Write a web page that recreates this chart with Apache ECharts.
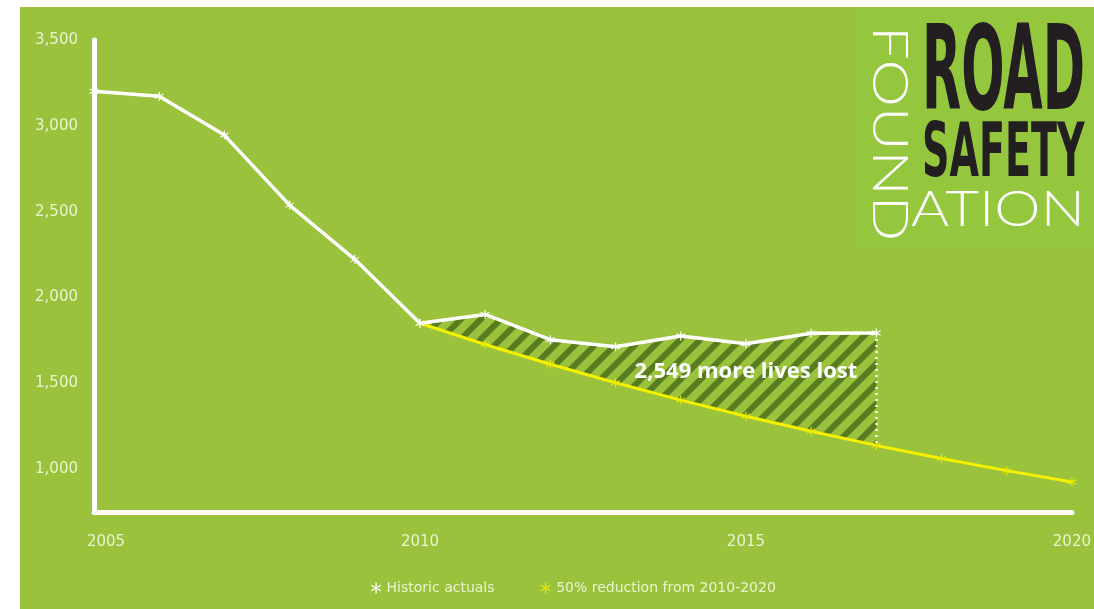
<!DOCTYPE html>
<html>
<head>
<meta charset="utf-8">
<title>Road deaths vs 50% reduction path</title>
<script src="https://cdn.jsdelivr.net/npm/echarts/dist/echarts.min.js"></script>
<style>
  html, body { margin: 0; padding: 0; background: #ffffff; }
  #chart {
    width: 1094px; height: 609px;
    background:
      linear-gradient(#ffffff, #ffffff) 0 0 / 20px 100% no-repeat,
      linear-gradient(#ffffff, #ffffff) 0 0 / 100% 7px no-repeat,
      #9bc23c;
  }
</style>
</head>
<body>
<div id="chart"></div>
<script>
// Years on the x axis
const years = ['2005','2006','2007','2008','2009','2010','2011','2012',
               '2013','2014','2015','2016','2017','2018','2019','2020'];
const xLabelYears = ['2005','2010','2015','2020'];

// Reported road deaths
const historic = [3201, 3172, 2946, 2538, 2222, 1850, 1901, 1754,
                  1713, 1775, 1730, 1792, 1793, null, null, null];

// Path halving deaths between 2010 and 2020
const reduction = [null, null, null, null, null, 1850, 1726, 1611,
                   1503, 1402, 1308, 1220, 1138, 1062, 991, 925];

// Y axis tick labels
const yTicks = [1000, 1500, 2000, 2500, 3000, 3500];

// Extra deaths above the reduction path, 2010-2017
const gapTotal = 2549;
const gapLabelYear = '2015';
const gapLabelValue = 1565;

const seriesNames = ['Historic actuals', '50% reduction from 2010-2020'];

// Shaded gap: base = reduction path, top = historic minus reduction
const gapBase = years.map((y, i) =>
  historic[i] != null && reduction[i] != null ? reduction[i] : null);
const gapHeight = years.map((y, i) =>
  historic[i] != null && reduction[i] != null ? historic[i] - reduction[i] : null);
const lastGapIdx = gapHeight.reduce((acc, v, i) => (v != null ? i : acc), -1);

const asterisk = 'path://M8.8,0 L11.2,0 L11.2,20 L8.8,20 Z ' +
  'M0.74,6.04 L1.94,3.96 L19.26,13.96 L18.06,16.04 Z ' +
  'M18.06,3.96 L19.26,6.04 L1.94,16.04 L0.74,13.96 Z';

function stripePattern() {
  const s = 20;
  const c = document.createElement('canvas');
  c.width = s; c.height = s;
  const g = c.getContext('2d');
  g.strokeStyle = '#587c20';
  g.lineWidth = 6;
  g.lineCap = 'square';
  [-s, 0, s].forEach(o => {
    g.beginPath(); g.moveTo(o, s); g.lineTo(o + s, 0); g.stroke();
  });
  return c;
}

const labelColor = '#eaf3cf';
const axisFont = '"DejaVu Sans", sans-serif';
const calloutFont = '"Open Sans", "DejaVu Sans", sans-serif';

const chart = echarts.init(document.getElementById('chart'), null, { renderer: 'canvas' });

const logoText = (text, x, y, sx, sy, font, fill, extra) => Object.assign({
  type: 'text', x: x, y: y, scaleX: sx, scaleY: sy,
  style: { text: text, font: font, fill: fill,
           align: 'left', verticalAlign: 'middle', textAlign: 'left', textVerticalAlign: 'middle' }
}, extra || {});

chart.setOption({
  backgroundColor: 'transparent',
  animation: false,
  textStyle: { fontFamily: axisFont },
  grid: { left: 94, right: 22, top: 40, bottom: 97, containLabel: false },
  xAxis: {
    type: 'category',
    data: years,
    boundaryGap: false,
    axisLine: { show: true, lineStyle: { color: '#ffffff', width: 5, cap: 'round' } },
    axisTick: { show: false },
    splitLine: { show: false },
    axisLabel: {
      interval: (idx, val) => xLabelYears.includes(val),
      color: labelColor,
      fontSize: 15,
      fontFamily: axisFont,
      margin: 23,
      formatter: v => v === xLabelYears[0] ? '{first|' + v + '}' : v,
      rich: { first: { padding: [0, 0, 0, 24], color: labelColor, fontSize: 15, fontFamily: axisFont } }
    }
  },
  yAxis: {
    type: 'value',
    min: 750,
    max: 3500,
    interval: 250,
    axisLine: { show: true, lineStyle: { color: '#ffffff', width: 5, cap: 'round' } },
    axisTick: { show: false },
    splitLine: { show: false },
    axisLabel: {
      color: labelColor,
      fontSize: 15,
      fontFamily: axisFont,
      margin: 16,
      formatter: v => yTicks.includes(v) ? v.toLocaleString('en-US') : ''
    }
  },
  legend: {
    data: seriesNames,
    bottom: 9,
    left: 366,
    itemGap: 46,
    itemWidth: 11,
    itemHeight: 11,
    icon: asterisk,
    textStyle: { color: labelColor, fontSize: 14, fontFamily: axisFont }
  },
  series: [
    {
      name: 'gapBase',
      type: 'line',
      stack: 'gap',
      data: gapBase,
      symbol: 'none',
      lineStyle: { opacity: 0 },
      silent: true,
      z: 1
    },
    {
      name: 'gapHeight',
      type: 'line',
      stack: 'gap',
      data: gapHeight,
      symbol: 'none',
      lineStyle: { opacity: 0 },
      areaStyle: { color: { image: stripePattern(), repeat: 'repeat' }, opacity: 1 },
      silent: true,
      z: 1
    },
    {
      name: seriesNames[1],
      type: 'line',
      data: reduction,
      symbol: asterisk,
      symbolSize: 9,
      showAllSymbol: true,
      lineStyle: { color: '#f4f000', width: 3 },
      itemStyle: { color: '#e8ea00' },
      z: 3,
      markPoint: {
        symbol: 'circle',
        symbolSize: 0,
        silent: true,
        data: [{ coord: [gapLabelYear, gapLabelValue] }],
        label: {
          show: true,
          position: 'inside',
          formatter: () => gapTotal.toLocaleString('en-US') + ' more lives lost',
          color: '#ffffff',
          fontSize: 22,
          fontWeight: 'bold',
          fontFamily: calloutFont
        }
      }
    },
    {
      name: seriesNames[0],
      type: 'line',
      data: historic,
      symbol: asterisk,
      symbolSize: 9,
      showAllSymbol: true,
      lineStyle: { color: '#ffffff', width: 3.5 },
      itemStyle: { color: '#ffffff' },
      z: 4,
      markLine: {
        silent: true,
        symbol: ['none', 'none'],
        label: { show: false },
        lineStyle: { color: '#ffffff', type: [2, 4], width: 2.5 },
        data: [[
          { coord: [years[lastGapIdx], historic[lastGapIdx]] },
          { coord: [years[lastGapIdx], reduction[lastGapIdx]] }
        ]]
      }
    }
  ],
  graphic: [
    {
      type: 'group',
      children: [
        { type: 'rect', shape: { x: 855, y: 8, width: 239, height: 239 }, style: { fill: '#94c73d' } },
        logoText('ROAD', 922, 79, 0.85, 1.95, 'bold 60px "DejaVu Sans"', '#231f20'),
        logoText('SAFETY', 922, 157, 0.635, 1.24, 'bold 60px "DejaVu Sans"', '#231f20'),
        logoText('ATION', 911, 210, 1.17, 1, '300 50px Lato', '#ffffff'),
        logoText('FOUND', 889, 26, 1.2, 1, '300 50px Lato', '#ffffff', { rotation: -Math.PI / 2 })
      ]
    }
  ]
});
</script>
</body>
</html>
